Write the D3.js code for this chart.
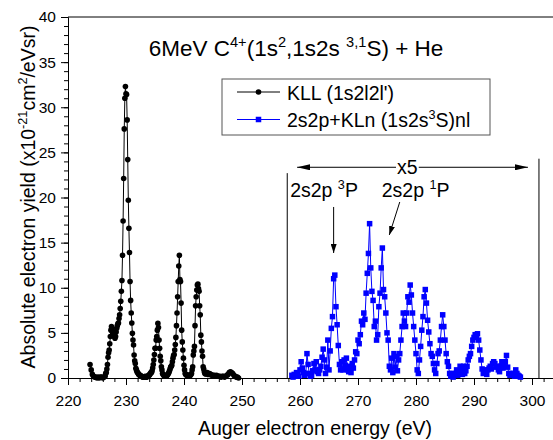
<!DOCTYPE html>
<html>
<head>
<meta charset="utf-8">
<script src="https://cdn.jsdelivr.net/npm/d3@7"></script>
<style>
  body { margin: 0; background: #fff; }
  svg { display: block; font-family: "Liberation Sans", Arial, sans-serif; }
</style>
</head>
<body>
<svg id="svg"></svg>
<script>
// KLL (1s2l2l') spectrum, black circles (finer sampling across the peaks)
const kllEnergy = [
  223.8, 224.0, 224.2, 224.4, 224.6, 224.8, 225.0, 225.2, 225.4, 225.6,
  225.8, 226.0, 226.2,
  226.4, 226.5, 226.6, 226.7, 226.8, 226.9, 227.0, 227.1, 227.2, 227.3,
  227.4, 227.5, 227.6, 227.7, 227.8, 227.9, 228.0, 228.1, 228.2, 228.3,
  228.4, 228.5, 228.6, 228.7, 228.8, 228.9, 229.0, 229.1, 229.2, 229.3,
  229.4, 229.5, 229.6, 229.7, 229.8, 229.9, 230.0, 230.1, 230.2, 230.3,
  230.4, 230.5, 230.6, 230.7, 230.8, 230.9, 231.0, 231.1, 231.2, 231.3,
  231.4, 231.5, 231.6, 231.7, 231.8, 231.9, 232.0, 232.1, 232.2, 232.3,
  232.4, 232.5, 232.6, 232.7, 232.8, 232.9, 233.0, 233.1, 233.2, 233.3,
  233.4, 233.5, 233.6, 233.7, 233.8, 233.9, 234.0, 234.1, 234.2, 234.3,
  234.4, 234.5, 234.6, 234.7, 234.8, 234.9, 235.0, 235.1, 235.2, 235.3,
  235.4, 235.5, 235.6, 235.7, 235.8, 235.9, 236.0, 236.1, 236.2, 236.3,
  236.4, 236.5, 236.6, 236.7, 236.8, 236.9, 237.0, 237.1, 237.2, 237.3,
  237.4, 237.5, 237.6, 237.7, 237.8, 237.9, 238.0, 238.1, 238.2, 238.3,
  238.4, 238.5, 238.6, 238.7, 238.8, 238.9, 239.0, 239.1, 239.2, 239.3,
  239.4, 239.5, 239.6, 239.7, 239.8, 239.9, 240.0, 240.1, 240.2, 240.3,
  240.4, 240.5, 240.6, 240.7, 240.8, 240.9, 241.0, 241.1, 241.2, 241.3,
  241.4, 241.5, 241.6, 241.7, 241.8, 241.9, 242.0, 242.1, 242.2, 242.3,
  242.4, 242.5, 242.6, 242.7, 242.8, 242.9, 243.0, 243.1, 243.2, 243.3,
  243.4, 243.5, 243.6, 243.7, 243.8, 243.9, 244.0,
  244.2, 244.4, 244.6, 244.8, 245.0, 245.2, 245.4, 245.6, 245.8, 246.0,
  246.2, 246.4, 246.6, 246.8, 247.0, 247.2, 247.4, 247.6, 247.8, 248.0,
  248.2, 248.4, 248.6, 248.8, 249.0, 249.2, 249.4
];
const kllYield = [
  1.5, 0.9, 0.4, 0.2, 0.1, 0.1, 0.0, 0.1, 0.0, 0.1,
  0.1, 0.0, 0.1,
  0.2, 0.5, 0.6, 1.0, 1.5, 2.3, 2.8, 3.1, 3.8, 4.6,
  5.3, 5.7, 5.4, 5.0, 4.95, 4.7, 4.6, 4.4, 4.6, 5.1,
  5.5, 5.8, 6.0, 6.1, 6.6, 7.0, 7.7, 8.5, 9.6, 10.8,
  13.6, 17.4, 22.1, 27.6, 31.0, 32.3, 31.5, 31.4, 28.6, 24.2,
  19.7, 16.6, 13.9, 10.7, 8.6, 7.2, 6.1, 4.95, 4.2, 3.65,
  2.55, 1.9, 1.6, 1.07, 0.9, 0.7, 0.6, 0.5, 0.4, 0.35,
  0.3, 0.25, 0.2, 0.2, 0.15, 0.1, 0.1, 0.1, 0.15, 0.1,
  0.2, 0.1, 0.1, 0.2, 0.2, 0.3, 0.3, 0.4, 0.5, 0.6,
  0.6, 0.8, 1.1, 1.5, 2.0, 2.6, 3.3, 3.3, 4.2, 4.6,
  5.3, 6.05, 5.6, 4.2, 3.3, 2.4, 1.9, 1.25, 0.9, 0.5,
  0.4, 0.3, 0.25, 0.2, 0.2, 0.2, 0.25, 0.3, 0.4, 0.5,
  0.6, 0.8, 1.0, 1.2, 1.3, 1.4, 1.8, 2.2, 2.5, 2.6,
  3.1, 3.7, 4.5, 5.8, 7.2, 9.0, 10.7, 12.4, 13.6, 10.9,
  10.7, 8.3, 5.3, 4.0, 3.1, 2.2, 1.4, 0.9, 0.5, 0.4,
  0.35, 0.3, 0.3, 0.25, 0.3, 0.2, 0.3, 0.3, 0.4, 0.5,
  0.9, 1.25, 2.55, 3.0, 3.5, 5.8, 8.0, 9.0, 9.75, 10.3,
  10.4, 9.9, 9.6, 8.0, 7.0, 4.75, 4.0, 3.0, 2.4, 1.25,
  1.0, 0.7, 0.5, 0.5, 0.45, 0.5, 0.6,
  0.4, 0.5, 0.4, 0.3, 0.3, 0.3, 0.2, 0.3, 0.2, 0.2,
  0.2, 0.1, 0.2, 0.2, 0.1, 0.2, 0.3, 0.4, 0.6, 0.7,
  0.6, 0.5, 0.3, 0.2, 0.1, 0.1, 0.0
];

// 2s2p + KLn (1s2s 3S)nl spectrum (shown x5), blue squares
const klnEnergy = [
  258.6, 258.8, 259.0, 259.2, 259.4, 259.6, 259.8, 260.0, 260.2, 260.4,
  260.6, 260.8, 261.0, 261.2, 261.4, 261.6, 261.8, 262.0, 262.2, 262.4,
  262.6, 262.8, 263.0, 263.2, 263.4, 263.6, 263.8, 264.0, 264.2, 264.4,
  264.6, 264.8, 265.0, 265.2, 265.4, 265.6, 265.8, 266.0, 266.2, 266.4,
  266.6, 266.8, 267.0, 267.2, 267.4, 267.6, 267.8, 268.0, 268.2, 268.4,
  268.6, 268.8, 269.0, 269.2, 269.4, 269.6, 269.8, 270.0, 270.2, 270.4,
  270.6, 270.8, 271.0, 271.2, 271.4, 271.6, 271.8, 272.0, 272.2, 272.4,
  272.6, 272.8, 273.0, 273.2, 273.4, 273.6, 273.8, 274.0, 274.2, 274.4,
  274.6, 274.8, 275.0, 275.2, 275.4, 275.6, 275.8, 276.0, 276.2, 276.4,
  276.6, 276.8, 277.0, 277.2, 277.4, 277.6, 277.8, 278.0, 278.2, 278.4,
  278.6, 278.8, 279.0, 279.2, 279.4, 279.6, 279.8, 280.0, 280.2, 280.4,
  280.6, 280.8, 281.0, 281.2, 281.4, 281.6, 281.8, 282.0, 282.2, 282.4,
  282.6, 282.8, 283.0, 283.2, 283.4, 283.6, 283.8, 284.0, 284.2, 284.4,
  284.6, 284.8, 285.0, 285.2, 285.4, 285.6, 285.8, 286.0, 286.2, 286.4,
  286.6, 286.8, 287.0, 287.2, 287.4, 287.6, 287.8, 288.0, 288.2, 288.4,
  288.6, 288.8, 289.0, 289.2, 289.4, 289.6, 289.8, 290.0, 290.2, 290.4,
  290.6, 290.8, 291.0, 291.2, 291.4, 291.6, 291.8, 292.0, 292.2, 292.4,
  292.6, 292.8, 293.0, 293.2, 293.4, 293.6, 293.8, 294.0, 294.2, 294.4,
  294.6, 294.8, 295.0, 295.2, 295.4, 295.6, 295.8, 296.0, 296.2, 296.4,
  296.6, 296.8, 297.0, 297.2, 297.4, 297.6, 297.8, 298.0
];
const klnYield = [
  0.3, 0.1, 0.4, 0.2, 0.6, 0.5, 0.2, 0.9, 1.8, 1.1,
  0.6, 0.3, 0.5, 2.7, 1.5, 0.5, 0.2, 0.3, 0.8, 1.6,
  0.9, 1.8, 0.7, 0.5, 0.9, 1.3, 2.3, 3.2, 2.0, 0.5,
  1.2, 4.2, 0.9, 3.0, 5.5, 6.8, 11.0, 11.4, 7.9, 5.9,
  3.6, 1.5, 0.9, 1.8, 0.9, 2.0, 1.4, 2.2, 0.9, 0.7,
  1.3, 0.6, 1.6, 1.1, 2.0, 2.9, 2.7, 4.2, 3.8, 4.8,
  6.3, 5.9, 7.2, 6.5, 9.4, 11.6, 13.8, 17.1, 12.2, 9.6,
  8.6, 5.7, 6.3, 4.2, 4.8, 7.9, 9.4, 12.2, 14.4, 9.8,
  9.0, 7.2, 5.0, 4.2, 1.3, 0.9, 2.2, 0.6, 2.7, 1.2,
  2.4, 0.8, 2.0, 2.7, 4.2, 5.7, 7.2, 6.3, 5.7, 7.2,
  9.0, 8.4, 10.3, 9.2, 7.2, 5.7, 4.2, 2.7, 0.9, 0.5,
  2.0, 3.5, 5.3, 6.8, 9.0, 9.8, 8.3, 6.4, 5.1, 3.8,
  2.7, 2.4, 1.6, 0.9, 0.5, 1.6, 2.7, 3.0, 4.2, 5.7,
  7.0, 5.7, 4.2, 2.7, 1.8, 1.3, 0.5, 0.2, 0.5, 0.1,
  0.3, 0.5, 0.9, 0.3, 0.7, 1.3, 0.9, 0.4, 1.3, 0.5,
  0.8, 1.3, 2.0, 2.4, 2.7, 3.5, 4.2, 4.5, 4.8, 4.6,
  4.9, 4.2, 3.1, 2.0, 1.0, 0.5, 0.7, 0.9, 0.4, 0.9,
  1.1, 1.3, 1.0, 1.6, 1.8, 1.6, 1.2, 1.3, 0.9, 0.7,
  1.3, 1.8, 1.1, 1.6, 1.8, 2.5, 1.2, 0.5, 0.3, 0.5,
  0.3, 0.5, 0.2, 0.9, 0.5, 0.3, 0.2, 0.1
];

const xTickValues = [220, 230, 240, 250, 260, 270, 280, 290, 300];
const yTickValues = [0, 5, 10, 15, 20, 25, 30, 35, 40];

const width = 553;
const height = 440;
const plotLeft = 68, plotTop = 17, plotBottom = 378;

let svg = d3.select("#svg").attr("width", width).attr("height", height);
svg.append("rect").attr("width", width).attr("height", height).attr("fill", "#fff");

// 85 eV span, plot frame runs slightly past the picture's right edge
const x = d3.scaleLinear().domain([220, 305]).range([plotLeft, plotLeft + 85 * 5.8]);
const y = d3.scaleLinear().domain([0, 40]).range([plotBottom, plotTop]);

// append text with superscript parts: parts = [[text, isSup], ...]
function richText(sel, parts, size) {
  parts.forEach(([t, sup], i) => {
    const prevSup = i > 0 && parts[i - 1][1];
    const ts = sel.append("tspan").text(t);
    if (sup) ts.attr("font-size", size * 0.65).attr("dy", -size * 0.42);
    else if (prevSup) ts.attr("dy", size * 0.42);
  });
  return sel;
}

// axes
const xAxisG = svg.append("g").attr("transform", `translate(0,${plotBottom})`);
xAxisG.append("g")
  .call(d3.axisBottom(x).tickValues(x.ticks(40)).tickSize(4).tickFormat("").tickSizeOuter(0));
xAxisG.append("g")
  .call(d3.axisBottom(x).tickValues(xTickValues).tickSize(7).tickPadding(10).tickSizeOuter(0));

const yAxisG = svg.append("g").attr("transform", `translate(${plotLeft},0)`);
yAxisG.append("g")
  .call(d3.axisLeft(y).tickValues(y.ticks(40)).tickSize(4).tickFormat("").tickSizeOuter(0));
yAxisG.append("g")
  .call(d3.axisLeft(y).tickValues(yTickValues).tickSize(7).tickPadding(5).tickSizeOuter(0));

svg.selectAll(".tick text").attr("font-size", 15.5).attr("fill", "#000")
  .attr("font-family", "Liberation Sans, Arial, sans-serif");
svg.selectAll(".domain, .tick line").attr("stroke", "#000");

// top frame line
svg.append("line")
  .attr("x1", plotLeft).attr("x2", x(305)).attr("y1", plotTop).attr("y2", plotTop)
  .attr("stroke", "#000");

// axis titles
svg.append("text")
  .attr("x", 315).attr("y", 435)
  .attr("text-anchor", "middle").attr("font-size", 19.5)
  .text("Auger electron energy (eV)");

richText(svg.append("text")
  .attr("transform", "translate(35,197) rotate(-90)")
  .attr("text-anchor", "middle").attr("font-size", 19.5),
  [["Absolute electron yield (x10", false], ["-21", true], ["cm", false], ["2", true], ["/eVsr)", false]], 19.5);

// title
richText(svg.append("text")
  .attr("x", 296).attr("y", 56)
  .attr("text-anchor", "middle").attr("font-size", 22.5),
  [["6MeV C", false], ["4+", true], ["(1s", false], ["2", true], [",1s2s ", false], ["3,1", true], ["S) + He", false]], 22.5);

// series
const kll = kllEnergy.map((e, i) => ({ e: e, v: kllYield[i] }));
const kln = klnEnergy.map((e, i) => ({ e: e, v: klnYield[i] }));
const line = d3.line().x(d => x(d.e)).y(d => y(d.v));

svg.append("path").datum(kln)
  .attr("d", line).attr("fill", "none").attr("stroke", "#0000ff").attr("stroke-width", 1);
svg.append("g").selectAll("rect").data(kln).join("rect")
  .attr("x", d => x(d.e) - 2.75).attr("y", d => y(d.v) - 2.75)
  .attr("width", 5.5).attr("height", 5.5).attr("fill", "#0000ff");

svg.append("path").datum(kll)
  .attr("d", line).attr("fill", "none").attr("stroke", "#000").attr("stroke-width", 1);
svg.append("g").selectAll("circle").data(kll).join("circle")
  .attr("cx", d => x(d.e)).attr("cy", d => y(d.v)).attr("r", 2.8).attr("fill", "#000");

// arrow heads
const defs = svg.append("defs");
defs.append("marker").attr("id", "bigHead")
  .attr("markerUnits", "userSpaceOnUse").attr("markerWidth", 13).attr("markerHeight", 6)
  .attr("viewBox", "0 0 13 6").attr("refX", 13).attr("refY", 3)
  .attr("orient", "auto-start-reverse")
  .append("path").attr("d", "M0,0 L13,3 L0,6 Z").attr("fill", "#000");
defs.append("marker").attr("id", "smallHead")
  .attr("markerUnits", "userSpaceOnUse").attr("markerWidth", 9).attr("markerHeight", 6)
  .attr("viewBox", "0 0 9 6").attr("refX", 9).attr("refY", 3)
  .attr("orient", "auto")
  .append("path").attr("d", "M0,0 L9,3 L0,6 Z").attr("fill", "#000");

// x5 region bounds
svg.append("line")
  .attr("x1", x(257.8)).attr("x2", x(257.8)).attr("y1", y(0)).attr("y2", y(22.7))
  .attr("stroke", "#000");
svg.append("line")
  .attr("x1", x(301.2)).attr("x2", x(301.2)).attr("y1", y(0)).attr("y2", y(24.3))
  .attr("stroke", "#000");

svg.append("line")
  .attr("x1", x(259.5)).attr("x2", x(299.3)).attr("y1", y(23.35)).attr("y2", y(23.35))
  .attr("stroke", "#000").attr("marker-start", "url(#bigHead)").attr("marker-end", "url(#bigHead)");
const x5 = svg.append("text")
  .attr("x", x(278.5)).attr("y", y(22.55))
  .attr("text-anchor", "middle").attr("font-size", 19.5).text("x5");
const bb = x5.node().getBBox();
svg.append("rect")
  .attr("x", bb.x - 1).attr("y", y(23.35) - 2).attr("width", bb.width + 2).attr("height", 4)
  .attr("fill", "#fff");
x5.raise();

// state labels and arrows
richText(svg.append("text").attr("x", x(258.3)).attr("y", y(20.05)).attr("font-size", 19.5),
  [["2s2p ", false], ["3", true], ["P", false]], 19.5);
richText(svg.append("text").attr("x", x(274.1)).attr("y", y(20.05)).attr("font-size", 19.5),
  [["2s2p ", false], ["1", true], ["P", false]], 19.5);

svg.append("line")
  .attr("x1", x(265.8)).attr("x2", x(265.8)).attr("y1", y(18.95)).attr("y2", y(13.85))
  .attr("stroke", "#000").attr("marker-end", "url(#smallHead)");
svg.append("line")
  .attr("x1", x(277.2)).attr("x2", x(275.4)).attr("y1", y(19.5)).attr("y2", y(15.85))
  .attr("stroke", "#000").attr("marker-end", "url(#smallHead)");

// legend
const lg = svg.append("g");
lg.append("rect").attr("x", 222).attr("y", 79).attr("width", 268).attr("height", 56)
  .attr("fill", "#fff").attr("stroke", "#555").attr("stroke-width", 1);
const l1 = 92, l2 = 119.5;
lg.append("line").attr("x1", 237).attr("x2", 280).attr("y1", l1).attr("y2", l1).attr("stroke", "#000");
lg.append("circle").attr("cx", 258.5).attr("cy", l1).attr("r", 2.8).attr("fill", "#000");
lg.append("text").attr("x", 287).attr("y", l1 + 7.5).attr("font-size", 19.5).text("KLL (1s2l2l')");
lg.append("line").attr("x1", 237).attr("x2", 280).attr("y1", l2).attr("y2", l2).attr("stroke", "#0000ff");
lg.append("rect").attr("x", 258.5 - 2.75).attr("y", l2 - 2.75).attr("width", 5.5).attr("height", 5.5).attr("fill", "#0000ff");
richText(lg.append("text").attr("x", 287).attr("y", l2 + 7.5).attr("font-size", 19.5),
  [["2s2p+KLn (1s2s", false], ["3", true], ["S)nl", false]], 19.5);
</script>
</body>
</html>
